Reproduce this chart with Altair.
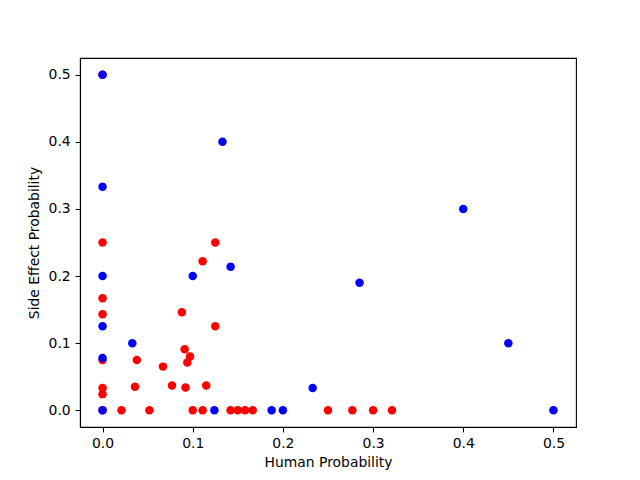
import altair as alt
import pandas as pd

red_x = [0, 0, 0.125, 0.111, 0, 0, 0.088, 0.125, 0.091, 0.097, 0.094, 0.038, 0, 0.067,
         0, 0, 0.036, 0.077, 0.092, 0.115,
         0, 0.021, 0.052, 0.1, 0.111, 0.142, 0.15, 0.158, 0.1665, 0.25, 0.277, 0.3, 0.321]
red_y = [0.5, 0.25, 0.25, 0.222, 0.167, 0.143, 0.146, 0.125, 0.091, 0.08, 0.071, 0.075, 0.075, 0.065,
         0.033, 0.024, 0.035, 0.037, 0.034, 0.037,
         0, 0, 0, 0, 0, 0, 0, 0, 0, 0, 0, 0, 0]

blue_x = [0, 0.133, 0, 0.4, 0.285, 0.45, 0, 0.1, 0.142, 0, 0.033, 0, 0, 0.124, 0.1875, 0.2, 0.5, 0.233]
blue_y = [0.5, 0.4, 0.333, 0.3, 0.19, 0.1, 0.2, 0.2, 0.214, 0.125, 0.1, 0.078, 0, 0, 0, 0, 0, 0.033]

red = pd.DataFrame({"x": red_x, "y": red_y})
blue = pd.DataFrame({"x": blue_x, "y": blue_y})

xs = alt.Scale(domain=[-0.025, 0.525], nice=False, zero=False)
ys = alt.Scale(domain=[-0.025, 0.525], nice=False, zero=False)
ticks = [0.0, 0.1, 0.2, 0.3, 0.4, 0.5]

axis_common = dict(grid=False, values=ticks, format=".1f", domainColor="black",
                   tickColor="black", tickSize=4.9, tickWidth=1.1, domainWidth=1.1,
                   labelFont="DejaVu Sans", labelFontSize=13.9, labelColor="black",
                   labelPadding=4.9, titleFont="DejaVu Sans", titleFontSize=13.9,
                   titleFontWeight="normal", titleColor="black")

def layer(df, color):
    return alt.Chart(df).mark_circle(size=72, opacity=1, color=color).encode(
        x=alt.X("x:Q", scale=xs, axis=alt.Axis(title="Human Probability", titlePadding=5, **axis_common)),
        y=alt.Y("y:Q", scale=ys, axis=alt.Axis(title="Side Effect Probability", titlePadding=7, **axis_common)),
    )

chart = alt.layer(layer(red, "#ff0000"), layer(blue, "#0000ff")).properties(
    width=496, height=369,
    autosize=alt.AutoSizeParams(type="none"),
    padding={"left": 72, "top": 50, "right": 56, "bottom": 45},
).configure(
    background="white",
    view=alt.ViewConfig(stroke="#000000", strokeWidth=1.1, strokeOpacity=1),
)

chart.save("out.html", embed_options={"renderer": "svg", "actions": False})
